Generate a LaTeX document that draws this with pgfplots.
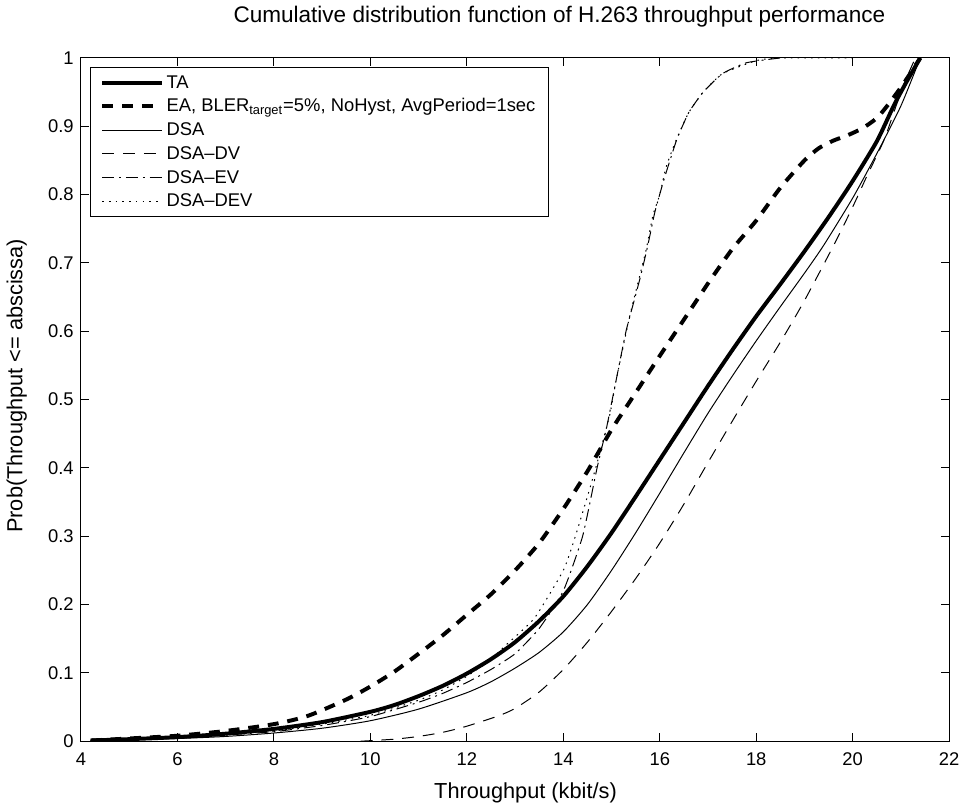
\documentclass[border=0pt]{standalone}
\usepackage{fontspec}
\setmainfont{Liberation Sans}
\usepackage{pgfplots}
\pgfplotsset{compat=1.18}

\begin{document}
\begin{tikzpicture}
\begin{axis}[
    scale only axis,
    width=439pt,
    height=345.5pt,
    xmin=4, xmax=22,
    ymin=0, ymax=1,
    xtick={4,6,...,22},
    ytick={0,0.1,...,1.0},
    yticklabels={0,0.1,0.2,0.3,0.4,0.5,0.6,0.7,0.8,0.9,1},
    tick align=inside,
    tick pos=both,
    major tick length=4pt,
    axis line style={line width=0.5pt},
    every tick/.style={black, line width=0.5pt},
    /pgf/number format/assume math mode=true,
    tick label style={font=\fontsize{9.3}{11}\selectfont},
    xticklabel style={anchor=center, yshift=-9pt},
    yticklabel style={anchor=east, inner sep=0pt, xshift=-3.5pt},
    xlabel={Throughput (kbit/s)},
    ylabel={Prob(Throughput <= abscissa)},
    label style={font=\fontsize{11}{13}\selectfont},
    xlabel style={at={(axis description cs:0.512,-0.0753)}, anchor=center},
    ylabel style={at={(axis description cs:-0.074,0.52)}, anchor=center},
    title={Cumulative distribution function of H.263 throughput performance},
    title style={font=\fontsize{11.4}{13}\selectfont, at={(axis description cs:0.551,1.0424)}, anchor=center},
    legend cell align=left,
    legend image code/.code={\draw[#1] (0pt,0pt) -- (30pt,0pt);},
    legend style={at={(axis description cs:0,1)}, anchor=north west,
        xshift=4.5pt, yshift=-4.5pt, draw=black, line width=0.5pt,
        font=\fontsize{9.3}{11}\selectfont,
        inner xsep=5pt, inner ysep=3pt, row sep=2.5pt,
        nodes={inner xsep=1.5pt, inner ysep=0pt, text height=7.5pt, text depth=2pt}},
]

% TA
\addplot[black, line width=2pt, smooth, tension=0.4] coordinates {
  (4.2,0.001)(5,0.003)(6,0.006)(7,0.011)(8,0.018)(9,0.028)(10,0.043)(10.5,0.053)
  (11,0.066)(11.5,0.081)(12,0.099)(12.5,0.12)(13,0.145)(13.5,0.176)(14,0.212)
  (14.5,0.256)(15,0.305)(15.5,0.358)(16,0.412)(16.5,0.466)(17,0.52)(17.5,0.572)
  (18,0.622)(18.5,0.669)(19,0.717)(19.5,0.767)(20,0.82)(20.5,0.878)(20.85,0.93)
  (21.1,0.963)(21.4,1.0)
};
\addlegendentry{TA}

% EA
\addplot[black, line width=2pt, dash pattern=on 5.5pt off 4.5pt, smooth, tension=0.4] coordinates {
  (4.2,0.001)(5,0.004)(6,0.008)(7,0.015)(8,0.025)(8.7,0.037)(9.5,0.061)(10,0.08)
  (10.5,0.102)(11,0.128)(11.5,0.155)(12,0.185)(12.5,0.215)(13,0.25)(13.5,0.29)
  (14,0.34)(14.5,0.395)(15,0.456)(15.5,0.51)(16,0.564)(16.5,0.617)(17,0.67)
  (17.5,0.72)(18,0.762)(18.5,0.81)(19,0.85)(19.3,0.868)(19.6,0.879)(19.9,0.887)
  (20.2,0.897)(20.5,0.912)(20.75,0.933)(21.05,0.962)(21.4,1.0)
};
\addlegendentry{EA, BLER\textsubscript{target}=5\%, NoHyst, AvgPeriod=1sec}

% DSA
\addplot[black, line width=0.5pt, smooth, tension=0.4] coordinates {
  (4.2,0.001)(6,0.004)(7,0.007)(8,0.012)(9,0.019)(10,0.03)(11,0.047)(12,0.071)
  (12.5,0.087)(13,0.107)(13.5,0.13)(14,0.16)(14.5,0.2)(15,0.25)(15.5,0.305)
  (16,0.363)(16.5,0.422)(17,0.48)(17.5,0.534)(18,0.586)(18.5,0.636)(19,0.685)
  (19.4,0.726)(20,0.795)(20.5,0.86)(21,0.93)(21.4,1.0)
};
\addlegendentry{DSA}

% DSA-DV
\addplot[black, line width=0.5pt, dash pattern=on 6pt off 4.5pt, smooth, tension=0.4] coordinates {
  (9.8,0)(10.5,0.003)(11,0.007)(11.5,0.013)(12,0.022)(12.65,0.037)(13,0.048)
  (13.5,0.072)(14,0.105)(14.5,0.145)(15,0.19)(15.5,0.238)(16,0.29)(16.5,0.347)
  (17,0.408)(17.5,0.468)(18,0.527)(18.5,0.584)(19,0.645)(19.6,0.725)(20,0.782)
  (20.3,0.828)(20.65,0.88)(20.9,0.93)(21.1,0.968)(21.3,1.0)
};
\addlegendentry{DSA--DV}

% DSA-EV
\addplot[black, line width=0.5pt, dash pattern=on 6pt off 2.5pt on 1pt off 2.5pt, smooth, tension=0.3] coordinates {
  (4.2,0.001)(6,0.005)(7,0.009)(8,0.014)(9,0.023)(10,0.036)(11,0.057)(11.5,0.07)
  (12,0.086)(12.5,0.105)(13,0.128)(13.5,0.165)(14,0.22)(14.4,0.30)(14.7,0.40)
  (14.9,0.46)(15.1,0.53)(15.3,0.6)(15.45,0.64)(15.6,0.68)(15.75,0.725)(15.9,0.775)
  (16.1,0.825)(16.35,0.88)(16.6,0.92)(16.9,0.95)(17.3,0.977)(17.8,0.993)(18.5,1.0)
};
\addlegendentry{DSA--EV}

% DSA-DEV
\addplot[black, line width=0.5pt, dash pattern=on 0.8pt off 2.6pt, smooth, tension=0.3] coordinates {
  (4.2,0.001)(6,0.005)(7,0.01)(8,0.015)(9,0.025)(10,0.038)(11,0.06)(11.5,0.075)
  (12,0.095)(12.5,0.12)(12.8,0.14)(13.4,0.18)(14,0.25)(14.25,0.30)(14.55,0.37)
  (14.75,0.42)(14.97,0.48)(15.1,0.53)(15.37,0.62)(15.58,0.68)(15.72,0.72)
  (15.86,0.77)(16,0.80)(16.13,0.84)(16.34,0.88)(16.6,0.92)(16.9,0.95)(17.3,0.977)
  (18,0.996)(18.5,1.0)(20,1.0)
};
\addlegendentry{DSA--DEV}
\end{axis}
\end{tikzpicture}
\end{document}
